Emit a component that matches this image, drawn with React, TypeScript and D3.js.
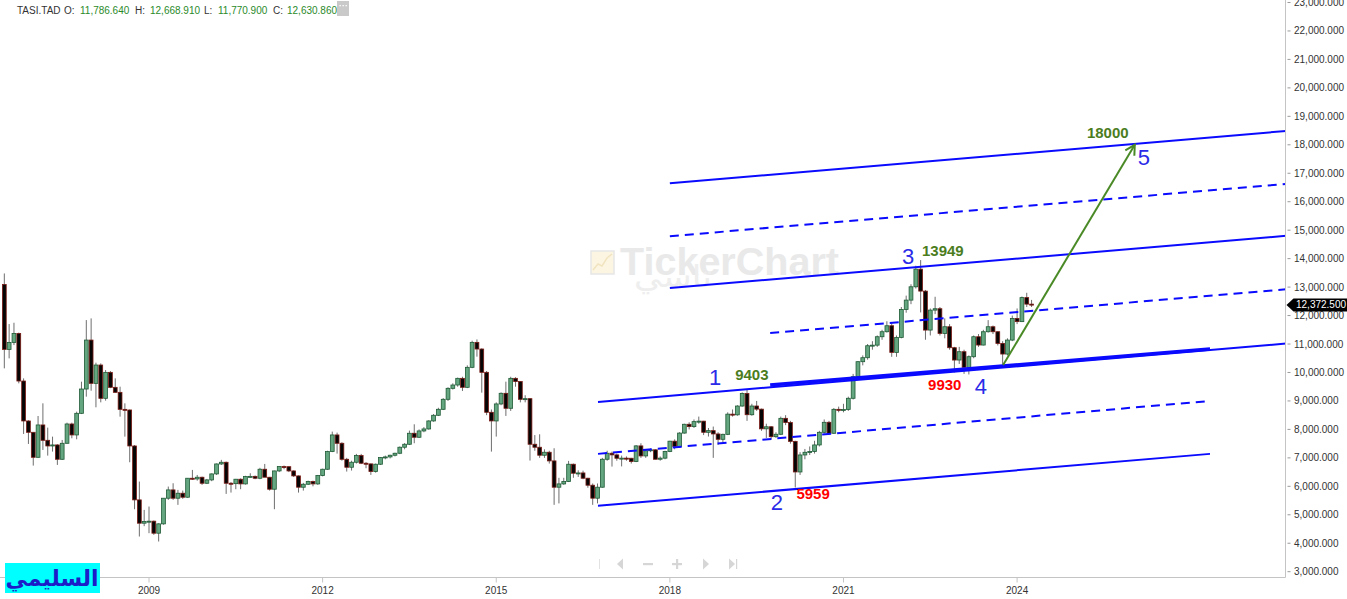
import React from "react";
import * as d3 from "d3";

// monthly candles [open, high, low, close]; first one is Jul 2006
const FIRST_MONTH = -30; // months relative to Jan 2009

const candles2006to2008 = [
  [13093, 13479, 10145, 10811], [10811, 11701, 10496, 11057], [11057, 11747, 10963, 11373],
  [11373, 11400, 9618, 9700], [9700, 9793, 7840, 8296], [8296, 8320, 7489, 7898],
  [7898, 7900, 6728, 7020], [7020, 8471, 7000, 8156], [8156, 8916, 7278, 7617],
  [7617, 8062, 7079, 7418], [7418, 7746, 7220, 7454], [7454, 7480, 6752, 6950],
  [6950, 7629, 6927, 7512], [7512, 8237, 7500, 8190], [8190, 8237, 7688, 7805],
  [7805, 8624, 7652, 8565], [8565, 9677, 8540, 9419], [9419, 11841, 9150, 11139],
  [11139, 11900, 9360, 9618], [9618, 10344, 8776, 10262], [10262, 10320, 8950, 9092],
  [9092, 10086, 9010, 10004], [10004, 10050, 9450, 9478], [9478, 9793, 9290, 9302],
  [9302, 9501, 8448, 8705], [8705, 8916, 7746, 8682], [8682, 8700, 6845, 7418],
  [7418, 7450, 5195, 5523], [5523, 6167, 4236, 4704], [4704, 5172, 4600, 4763],
];

const candles2009to2011 = [
  [4763, 5289, 4353, 4775], [4775, 4800, 4295, 4353], [4353, 4700, 4061, 4681],
  [4681, 5582, 4650, 5582], [5582, 5992, 5523, 5874], [5874, 6108, 5523, 5582],
  [5582, 5874, 5348, 5757], [5757, 5850, 5560, 5617], [5617, 6284, 5600, 6284],
  [6284, 6576, 6225, 6260], [6260, 6400, 6200, 6319], [6319, 6340, 6050, 6108],
  [6108, 6260, 6080, 6225], [6225, 6450, 6180, 6436], [6436, 6800, 6400, 6786],
  [6786, 6930, 6750, 6845], [6845, 6870, 5734, 6108], [6108, 6150, 5780, 6094],
  [6094, 6260, 5898, 6249], [6249, 6280, 5898, 6085], [6085, 6370, 6060, 6342],
  [6342, 6459, 6300, 6350], [6350, 6380, 6250, 6284], [6284, 6650, 6250, 6600],
  [6600, 6786, 6500, 6319], [6319, 6330, 5850, 5898], [5898, 6550, 5195, 6541],
  [6541, 6700, 6500, 6693], [6693, 6730, 6600, 6690], [6690, 6700, 6500, 6541],
  [6541, 6560, 6330, 6366], [6366, 6380, 5780, 5968], [5968, 6120, 5850, 6073],
  [6073, 6200, 6050, 6167], [6167, 6200, 6000, 6085], [6085, 6400, 6050, 6377],
];

const candles2012to2014 = [
  [6377, 6620, 6350, 6600], [6600, 7250, 6580, 7220], [7220, 7922, 7200, 7805],
  [7805, 7887, 7150, 7512], [7512, 7550, 6900, 6950], [6950, 7000, 6519, 6670],
  [6670, 6900, 6554, 6846], [6846, 7139, 6800, 7080], [7080, 7139, 6780, 6811],
  [6811, 6850, 6636, 6788], [6788, 6800, 6402, 6519], [6519, 6800, 6480, 6776],
  [6776, 7020, 6750, 7010], [7010, 7080, 6950, 7033], [7033, 7110, 6980, 7092],
  [7092, 7180, 7050, 7162], [7162, 7400, 7130, 7373], [7373, 7520, 7300, 7478],
  [7478, 7958, 7450, 7864], [7864, 8180, 7513, 7724], [7724, 8000, 7700, 7946],
  [7946, 8080, 7900, 8016], [8016, 8320, 7990, 8297], [8297, 8540, 8270, 8496],
  [8496, 8760, 8470, 8706], [8706, 9100, 8680, 9057], [9057, 9480, 9000, 9443],
  [9443, 9620, 9400, 9560], [9560, 9820, 9500, 9794], [9794, 9850, 9350, 9479],
  [9479, 10250, 9450, 10181], [10181, 11117, 10150, 11058], [11058, 11160, 10555, 10824],
  [10824, 10850, 9291, 10005], [10005, 10050, 8500, 8601], [8601, 8700, 7220, 8297],
];

const candles2015to2017 = [
  [8297, 8950, 7747, 8894], [8894, 9300, 8850, 9268], [9268, 9678, 8472, 8742],
  [8742, 9850, 8650, 9794], [9794, 9834, 9500, 9680], [9680, 9700, 8950, 9057],
  [9057, 9200, 8950, 9080], [9080, 9100, 6905, 7478], [7478, 7800, 7250, 7373],
  [7373, 7829, 7000, 7092], [7092, 7300, 7000, 7197], [7197, 7250, 6800, 6893],
  [6893, 7338, 5349, 5969], [5969, 6300, 5400, 6085], [6085, 6300, 6050, 6167],
  [6167, 6893, 6150, 6776], [6776, 6800, 6300, 6460], [6460, 6560, 6330, 6470],
  [6470, 6550, 6250, 6285], [6285, 6300, 5950, 6039], [6039, 6100, 5349, 5583],
  [5583, 6100, 5400, 5969], [5969, 7000, 5950, 6951], [6951, 7250, 6900, 7162],
  [7162, 7220, 6694, 7104], [7104, 7150, 6900, 6986], [6986, 7080, 6700, 6990],
  [6990, 7050, 6900, 6986], [6986, 7000, 6800, 6870], [6870, 7450, 6850, 7420],
  [7420, 7513, 7000, 7068], [7068, 7300, 7000, 7250], [7250, 7330, 7200, 7283],
  [7283, 7300, 6950, 6951], [6951, 7050, 6900, 6990], [6990, 7250, 6950, 7226],
];

const candles2018to2020 = [
  [7226, 7600, 7200, 7586], [7586, 7650, 7300, 7396], [7396, 7900, 7350, 7871],
  [7871, 8200, 7850, 8180], [8180, 8250, 8000, 8098], [8098, 8350, 8050, 8273],
  [8273, 8450, 8200, 8290], [8290, 8300, 7800, 7898], [7898, 8050, 7750, 7957],
  [7957, 8100, 7000, 7840], [7840, 7900, 7453, 7652], [7652, 7850, 7550, 7827],
  [7827, 8600, 7800, 8536], [8536, 8700, 8450, 8512], [8512, 8850, 8480, 8821],
  [8821, 9300, 8800, 9259], [9259, 9403, 8300, 8516], [8516, 8900, 8480, 8822],
  [8822, 9000, 8650, 8712], [8712, 8730, 7950, 8020], [8020, 8200, 7700, 8092],
  [8092, 8120, 7650, 7744], [7744, 7900, 7700, 7829], [7829, 8450, 7800, 8389],
  [8389, 8500, 8150, 8240], [8240, 8300, 7500, 7580], [7580, 7600, 5959, 6505],
  [6505, 7200, 6400, 7102], [7102, 7313, 6950, 7196], [7196, 7400, 7100, 7224],
  [7224, 7600, 7150, 7454], [7454, 7950, 7400, 7898], [7898, 8350, 7850, 8249],
  [8249, 8300, 7800, 7864], [7864, 8750, 7840, 8705], [8705, 8800, 8600, 8690],
];

const candles2021to2024 = [
  [8690, 8900, 8600, 8703], [8703, 9150, 8650, 9093], [9093, 9950, 9050, 9852],
  [9852, 10400, 9800, 10379], [10379, 10600, 10250, 10519], [10519, 11000, 10450, 10940],
  [10940, 11100, 10800, 10960], [10960, 11300, 10900, 11256], [11256, 11500, 11150, 11432],
  [11432, 11800, 11400, 11642], [11642, 11750, 10550, 10706], [10706, 11300, 10550, 11233],
  [11233, 12300, 11200, 12215], [12215, 12700, 12100, 12543], [12543, 13100, 12400, 13011],
  [13011, 13750, 12950, 13631], [13631, 13949, 12110, 12859], [12859, 12900, 11150, 11490],
  [11490, 12250, 11300, 12192], [12192, 12660, 12050, 12240], [12240, 12300, 11300, 11373],
  [11373, 11900, 11200, 11607], [11607, 11700, 10800, 10870], [10870, 10900, 10000, 10437],
  [10437, 10900, 10300, 10730], [10730, 10800, 9950, 10180], [10180, 10600, 9930, 10554],
  [10554, 11300, 10500, 11256], [11256, 11350, 10900, 10964], [10964, 11500, 10950, 11432],
  [11432, 11840, 11400, 11607], [11607, 11650, 11350, 11432], [11432, 11450, 10950, 11022],
  [11022, 11100, 10262, 10648], [10648, 11200, 10600, 11139], [11139, 12000, 11100, 11900],
  [11900, 12250, 11700, 11786.64], [11786.64, 12668.91, 11770.9, 12630.86],
  [12630.86, 12800, 12300, 12402], [12402, 12550, 12300, 12372.5],
];

const header = { symbol: "TASI.TAD", o: "11,786.640", h: "12,668.910", l: "11,770.900", c: "12,630.860" };
const lastPrice = 12372.5;

const yTicks = d3.range(3000, 23001, 1000);
const yearTicks = [2009, 2012, 2015, 2018, 2021, 2024];

// trend lines: [[month, price], [month, price]]
const solidLines = [
  [[108, 16649], [236, 18488]],
  [[108, 12965], [236, 14804]],
  [[93.1, 8965], [236, 11018]],
  [[93.1, 5316], [220, 7140]],
];
const thickLine = [[128.8, 9560], [220, 10825]];
const dashedLines = [
  [[108, 14789], [236, 16628]],
  [[128.8, 11386], [236, 12926]],
  [[93.1, 7140], [220, 9000]],
];
const targetArrow = [[177.1, 10263], [204.4, 18000]];

// wave labels [month, price, text]
const waveLabels: [number, number, string][] = [
  [117.4, 9842, "1"], [130.2, 5456, "2"], [157.4, 14088, "3"], [172.5, 9526, "4"], [206.3, 17561, "5"],
];
const greenValues: [number, number, string][] = [
  [125.0, 9912, "9403"], [164.6, 14263, "13949"], [198.8, 18439, "18000"],
];
const redValues: [number, number, string][] = [
  [137.7, 5737, "5959"], [165.0, 9561, "9930"],
];

const W = 1347;
const H = 599;
const plotRight = 1285.5;
const plotBottom = 577.5;
const font = "'Liberation Sans', Arial, sans-serif";

export default function App() {
  const candles = [
    ...candles2006to2008, ...candles2009to2011, ...candles2012to2014,
    ...candles2015to2017, ...candles2018to2020, ...candles2021to2024,
  ].map((d, i) => ({ m: i + FIRST_MONTH, o: d[0], h: d[1], l: d[2], c: d[3] }));

  const x = d3.scaleLinear().domain([0, 180]).range([149, 1017.1]);
  const y = d3.scaleLinear().domain([3000, 23000]).range([571.7, 2.5]);
  const fmt = d3.format(",.3f");
  const seg = (s: number[][]) =>
    d3.line<number[]>().x((p) => x(p[0])).y((p) => y(p[1]))(s) || "";

  const blue = "#0a0aff";
  const [a0, a1] = targetArrow;
  const ax0 = x(a0[0]), ay0 = y(a0[1]), ax1 = x(a1[0]), ay1 = y(a1[1]);
  const ang = Math.atan2(ay1 - ay0, ax1 - ax0);
  const head = [ang + Math.PI - 0.5, ang + Math.PI + 0.5].map((t) => [ax1 + 11 * Math.cos(t), ay1 + 11 * Math.sin(t)]);
  const py = y(lastPrice);

  return (
    <svg width={W} height={H} style={{ position: "absolute", left: 0, top: 0, background: "#fff" }}>
      <defs>
        <clipPath id="plot">
          <rect x={0} y={0} width={plotRight} height={plotBottom} />
        </clipPath>
      </defs>

      {/* watermark */}
      <g>
        <rect x={591} y={251} width={23} height={23} fill="#fbf5e2" stroke="#e6e6e6" strokeWidth={1.5} />
        <path d="M593,270 L598,264 L602,266 L607,258 L612,254" fill="none" stroke="#f1e4bf" strokeWidth={1.5} />
        <text x={620} y={275} fontFamily={font} fontWeight="bold" fontSize={38} fill="#e9e9e9" textLength={219} lengthAdjust="spacingAndGlyphs">
          TickerChart
        </text>
        <text x={673} y={287} fontFamily="'DejaVu Sans', sans-serif" fontSize={30} fill="#eeeeee" textAnchor="middle" textLength={78} lengthAdjust="spacingAndGlyphs">
          تاسي
        </text>
      </g>

      {/* header */}
      <text y={14} fontFamily={font} fontSize={10} fill="#333">
        <tspan x={17}>{header.symbol}</tspan>
        <tspan x={64}>O:</tspan>
        <tspan x={80} fill="#2a8a2a">{header.o}</tspan>
        <tspan x={135}>H:</tspan>
        <tspan x={150} fill="#2a8a2a">{header.h}</tspan>
        <tspan x={204}>L:</tspan>
        <tspan x={218} fill="#2a8a2a">{header.l}</tspan>
        <tspan x={273}>C:</tspan>
        <tspan x={287} fill="#2a8a2a">{header.c}</tspan>
      </text>
      <rect x={337} y={1} width={12} height={15} fill="#c9c9c9" />
      {[340, 343, 346].map((cx) => (
        <rect key={cx} x={cx - 0.5} y={5} width={1.3} height={1.3} fill="#fff" />
      ))}

      <g clipPath="url(#plot)">
        {/* candles */}
        {candles.map((d) => {
          const cx = x(d.m);
          const up = d.c >= d.o;
          const top = y(Math.max(d.o, d.c));
          const bh = Math.max(1, Math.abs(y(d.o) - y(d.c)));
          return (
            <g key={d.m}>
              <line x1={cx} x2={cx} y1={y(d.h)} y2={y(d.l)} stroke="#6e6e6e" strokeWidth={1} />
              <rect
                x={cx - 1.9}
                y={top}
                width={3.8}
                height={bh}
                fill={up ? "#64a67f" : "#050505"}
                stroke={up ? "#1f5a36" : "#7a1a14"}
                strokeWidth={0.8}
              />
            </g>
          );
        })}

        {/* channel */}
        {solidLines.map((s, i) => (
          <path key={"s" + i} d={seg(s)} stroke={blue} strokeWidth={2} fill="none" />
        ))}
        <path d={seg(thickLine)} stroke={blue} strokeWidth={3.5} fill="none" />
        {dashedLines.map((s, i) => (
          <path key={"d" + i} d={seg(s)} stroke={blue} strokeWidth={2} strokeDasharray="9 6" fill="none" />
        ))}

        {/* target arrow */}
        <line x1={ax0} y1={ay0} x2={ax1} y2={ay1} stroke="#4a8a26" strokeWidth={2} />
        <polyline
          points={`${head[0][0]},${head[0][1]} ${ax1},${ay1} ${head[1][0]},${head[1][1]}`}
          fill="none"
          stroke="#4a8a26"
          strokeWidth={2}
        />

        {/* labels */}
        {waveLabels.map(([m, p, t]) => (
          <text key={t} x={x(m)} y={y(p)} dy="0.35em" textAnchor="middle" fontFamily={font} fontSize={22} fill="#2a2ae8">
            {t}
          </text>
        ))}
        {greenValues.map(([m, p, t]) => (
          <text key={t} x={x(m)} y={y(p)} dy="0.35em" textAnchor="middle" fontFamily={font} fontWeight="bold" fontSize={15} fill="#4b7d1e">
            {t}
          </text>
        ))}
        {redValues.map(([m, p, t]) => (
          <text key={t} x={x(m)} y={y(p)} dy="0.35em" textAnchor="middle" fontFamily={font} fontWeight="bold" fontSize={15} fill="#ff0000">
            {t}
          </text>
        ))}
      </g>

      {/* axes */}
      <line x1={plotRight} x2={plotRight} y1={0} y2={plotBottom} stroke="#c4c4c4" />
      <line x1={0} x2={plotRight} y1={plotBottom} y2={plotBottom} stroke="#c4c4c4" />
      {yTicks.map((v) => (
        <g key={v}>
          <line x1={plotRight + 2} x2={plotRight + 5} y1={y(v)} y2={y(v)} stroke="#999" />
          <text x={1294} y={y(v)} dy="0.35em" fontFamily={font} fontSize={10} fill="#333">
            {fmt(v)}
          </text>
        </g>
      ))}
      {yearTicks.map((yr) => {
        const px = x((yr - 2009) * 12);
        return (
          <g key={yr}>
            <line x1={px} x2={px} y1={plotBottom} y2={plotBottom + 5} stroke="#c4c4c4" />
            <text x={px} y={594} textAnchor="middle" fontFamily={font} fontSize={10} fill="#333">
              {yr}
            </text>
          </g>
        );
      })}

      {/* last price tag */}
      <path d={`M${plotRight + 1},${py} L${plotRight + 8},${py - 6.5} H${W} V${py + 6.5} H${plotRight + 8} Z`} fill="#000" />
      <text x={1296} y={py} dy="0.35em" fontFamily={font} fontSize={10} fill="#fff">
        {fmt(lastPrice)}
      </text>

      {/* navigation buttons */}
      <g fill="#d6d6d6" stroke="none">
        <rect x={599} y={559} width={1} height={10} fill="#e2e2e2" />
        <path d="M617,564 L623,558.5 L623,569.5 Z" />
        <rect x={643} y={563} width={10} height={2.2} />
        <rect x={672} y={563} width={10} height={2.2} />
        <rect x={676} y={559} width={2.2} height={10} />
        <path d="M709,564 L703,558.5 L703,569.5 Z" />
        <path d="M735,564 L729,558.5 L729,569.5 Z" />
        <rect x={736} y={559} width={1.2} height={10} />
      </g>

      {/* author badge */}
      <rect x={5} y={563} width={95} height={30} fill="#00ffff" />
      <text x={52} y={586} textAnchor="middle" fontFamily="'DejaVu Sans', sans-serif" fontWeight="bold" fontSize={22} fill="#1c1cc8">
        السليمي
      </text>
    </svg>
  );
}
